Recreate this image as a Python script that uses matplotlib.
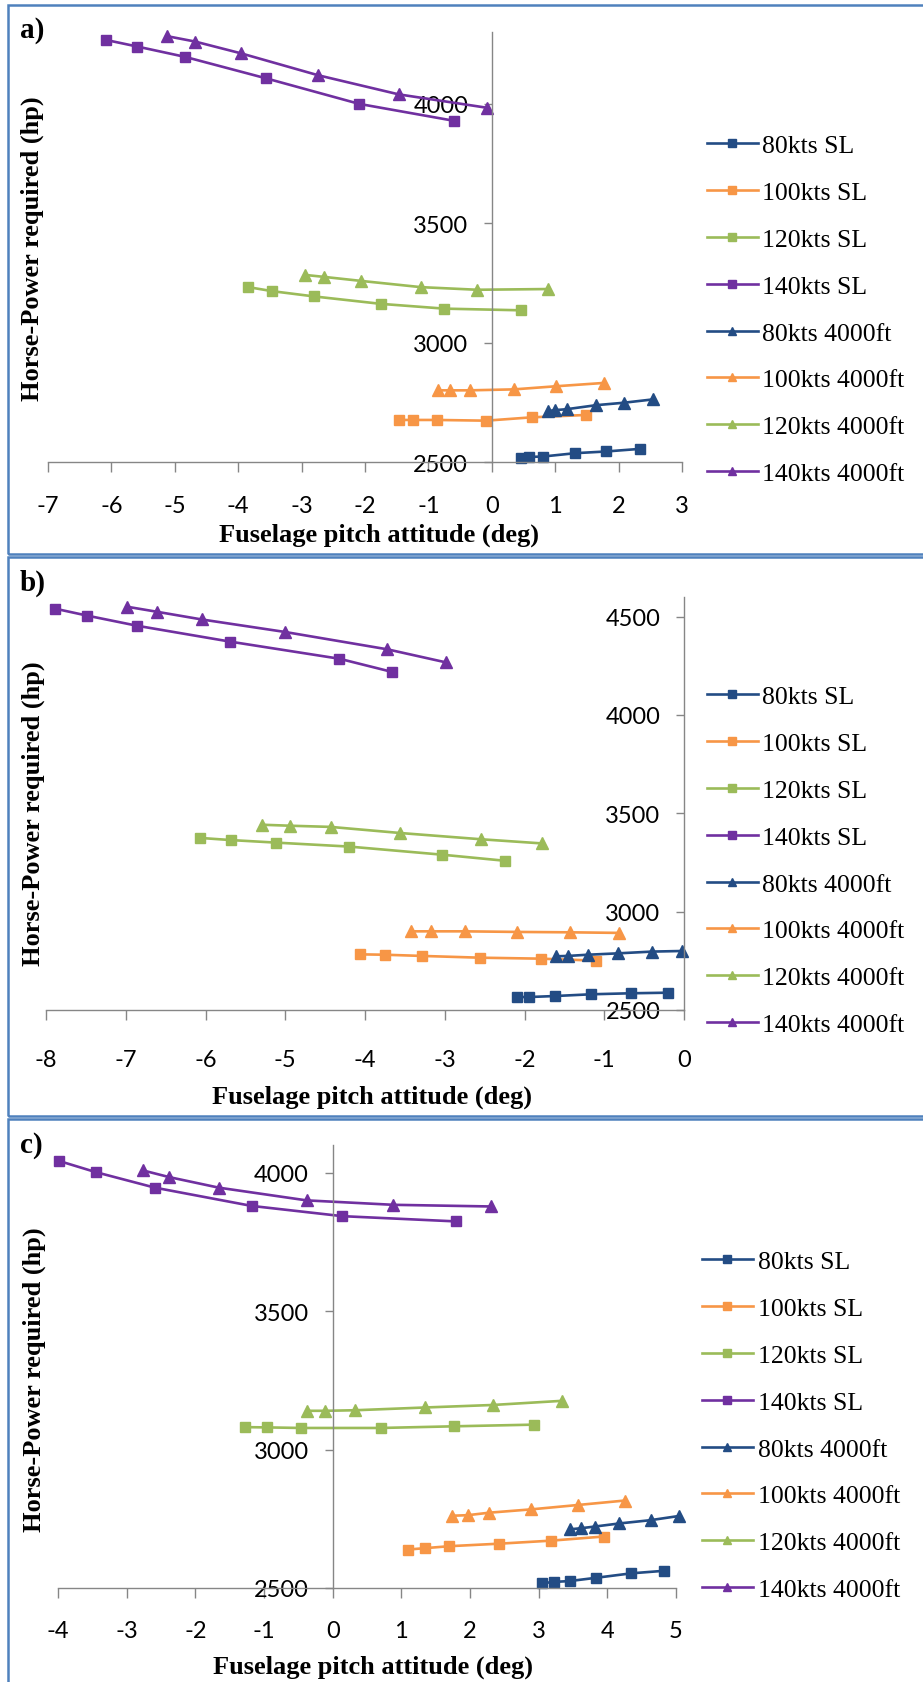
import matplotlib.pyplot as plt
from matplotlib.patches import Rectangle

plt.rcParams['axes.unicode_minus'] = False

W, H = 923, 1683

series_names = ['80kts SL', '100kts SL', '120kts SL', '140kts SL',
                '80kts 4000ft', '100kts 4000ft', '120kts 4000ft', '140kts 4000ft']
speed_colors = ['#234C84', '#F79646', '#9BBB59', '#7030A0']

# ---- panel a) : pitch (deg) and power (hp), order 80/100/120/140 kts
a_sl_pitch = [[0.46, 0.58, 0.81, 1.32, 1.80, 2.34],
              [-1.46, -1.25, -0.86, -0.09, 0.63, 1.49],
              [-3.84, -3.46, -2.80, -1.75, -0.75, 0.46],
              [-6.09, -5.59, -4.84, -3.56, -2.09, -0.59]]
a_sl_hp = [[2518, 2521, 2523, 2537, 2544, 2555],
           [2676, 2676, 2676, 2673, 2687, 2697],
           [3232, 3215, 3193, 3162, 3142, 3135],
           [4267, 4239, 4196, 4106, 3999, 3928]]
a_ft_pitch = [[0.89, 0.99, 1.18, 1.65, 2.08, 2.54],
              [-0.85, -0.66, -0.35, 0.35, 1.01, 1.77],
              [-2.94, -2.65, -2.06, -1.12, -0.23, 0.88],
              [-5.13, -4.68, -3.96, -2.74, -1.47, -0.08]]
a_ft_hp = [[2713, 2717, 2721, 2738, 2748, 2762],
           [2800, 2800, 2800, 2804, 2817, 2831],
           [3283, 3275, 3258, 3232, 3221, 3224],
           [4283, 4260, 4211, 4119, 4039, 3983]]

# ---- panel b)
b_sl_pitch = [[-2.09, -1.94, -1.62, -1.16, -0.67, -0.20],
              [-4.06, -3.75, -3.29, -2.56, -1.79, -1.10],
              [-6.07, -5.68, -5.11, -4.20, -3.04, -2.25],
              [-7.89, -7.48, -6.86, -5.69, -4.32, -3.66]]
b_sl_hp = [[2566, 2566, 2571, 2580, 2585, 2588],
           [2783, 2781, 2775, 2766, 2761, 2751],
           [3375, 3364, 3351, 3331, 3290, 3259],
           [4541, 4505, 4454, 4373, 4286, 4219]]
b_ft_pitch = [[-1.61, -1.45, -1.21, -0.83, -0.40, -0.03],
              [-3.42, -3.17, -2.75, -2.10, -1.43, -0.81],
              [-5.29, -4.94, -4.43, -3.56, -2.54, -1.78],
              [-6.99, -6.61, -6.05, -5.00, -3.72, -2.99]]
b_ft_hp = [[2773, 2775, 2781, 2788, 2797, 2800],
           [2900, 2900, 2900, 2897, 2895, 2892],
           [3442, 3437, 3431, 3400, 3368, 3347],
           [4551, 4525, 4486, 4422, 4334, 4268]]

# ---- panel c)
c_sl_pitch = [[3.05, 3.22, 3.45, 3.84, 4.35, 4.82],
              [1.10, 1.35, 1.70, 2.42, 3.18, 3.95],
              [-1.28, -0.95, -0.46, 0.70, 1.77, 2.93],
              [-3.98, -3.45, -2.59, -1.18, 0.14, 1.80]]
c_sl_hp = [[2517, 2522, 2525, 2537, 2553, 2562],
           [2639, 2644, 2651, 2660, 2671, 2686],
           [3081, 3080, 3078, 3078, 3084, 3090],
           [4042, 4002, 3946, 3880, 3843, 3824]]
c_ft_pitch = [[3.46, 3.62, 3.82, 4.17, 4.63, 5.04],
              [1.74, 1.97, 2.28, 2.89, 3.58, 4.26],
              [-0.38, -0.11, 0.33, 1.35, 2.33, 3.34],
              [-2.76, -2.38, -1.66, -0.38, 0.88, 2.30]]
c_ft_hp = [[2712, 2716, 2722, 2733, 2745, 2760],
           [2761, 2763, 2772, 2784, 2800, 2816],
           [3140, 3140, 3142, 3152, 3161, 3176],
           [4008, 3984, 3946, 3900, 3884, 3878]]

fig = plt.figure(figsize=(W / 100, H / 100), dpi=100)

# blue frames round each panel
for top, bottom in [(6, 555), (558, 1117), (1120, 1710)]:
    fig.add_artist(Rectangle((8 / W, 1 - bottom / H), 1.0, (bottom - top) / H,
                             transform=fig.transFigure, fill=False,
                             ec='#4F81BD', lw=1.8, clip_on=False))


def panel(box, sl_x, sl_y, ft_x, ft_y, xlim, ymax, tag, tag_y,
          xpad, xlab_pos, ylab_pos, leg_xy):
    x0, x1, y0, y1 = box
    ax = fig.add_axes([x0 / W, 1 - y1 / H, (x1 - x0) / W, (y1 - y0) / H])
    for i in range(4):
        ax.plot(sl_x[i], sl_y[i], color=speed_colors[i], lw=1.9, marker='s',
                ms=7, label=series_names[i], clip_on=False)
    for i in range(4):
        ax.plot(ft_x[i], ft_y[i], color=speed_colors[i], lw=1.9, marker='^',
                ms=8, label=series_names[4 + i], clip_on=False)

    ax.set_xlim(*xlim)
    ax.set_ylim(2500, ymax)
    ax.set_xticks(range(xlim[0], xlim[1] + 1))
    ax.set_yticks(range(2500, ymax + 1, 500))
    ax.spines['top'].set_visible(False)
    ax.spines['right'].set_visible(False)
    ax.spines['left'].set_position(('data', 0))
    for s in ('left', 'bottom'):
        ax.spines[s].set_color('#868686')
        ax.spines[s].set_linewidth(1.0)
    ax.tick_params(axis='x', direction='out', length=7, width=1,
                   color='#868686', pad=xpad, labelsize=17)
    ax.tick_params(axis='y', direction='out', length=6, width=1,
                   color='#868686', pad=11, labelsize=17)
    for t in ax.get_xticklabels() + ax.get_yticklabels():
        t.set_fontfamily('Lato')
    ax.patch.set_visible(False)

    ax.set_xlabel('Fuselage pitch attitude (deg)', fontfamily='Liberation Serif',
                  fontweight='bold', fontsize=19)
    ax.xaxis.set_label_coords(*xlab_pos)
    ax.xaxis.label.set_va('center')
    ax.set_ylabel('Horse-Power required (hp)', fontfamily='Liberation Serif',
                  fontweight='bold', fontsize=19)
    ax.yaxis.set_label_coords(*ylab_pos)
    ax.yaxis.label.set_va('center')

    fig.text(20 / W, 1 - tag_y / H, tag, fontfamily='Liberation Serif',
             fontweight='bold', fontsize=21, va='center', ha='left')

    ax.legend(loc='upper left', bbox_to_anchor=(leg_xy[0] / W, 1 - leg_xy[1] / H),
              bbox_transform=fig.transFigure, frameon=False, borderpad=0,
              borderaxespad=0, handlelength=1.97, handletextpad=0.19,
              labelspacing=0.93, prop={'family': 'Liberation Serif', 'size': 18.5},
              markerscale=0.8)
    return ax


panel((48, 682, 33, 463), a_sl_pitch, a_sl_hp, a_ft_pitch, a_ft_hp,
      (-7, 3), 4300, 'a)', 31, 17,
      (0.522, -72 / 430), (-16 / 634, 0.498), (707, 135))
panel((46, 684, 598, 1011), b_sl_pitch, b_sl_hp, b_ft_pitch, b_ft_hp,
      (-8, 0), 4600, 'b)', 583, 21,
      (0.511, -86 / 413), (-13 / 638, 0.477), (707, 686))
panel((58, 676, 1146, 1589), c_sl_pitch, c_sl_hp, c_ft_pitch, c_ft_hp,
      (-4, 5), 4100, 'c)', 1146, 16,
      (0.51, -78 / 443), (-24 / 618, 0.472), (702, 1251))

fig.savefig('out.png', dpi=100)
